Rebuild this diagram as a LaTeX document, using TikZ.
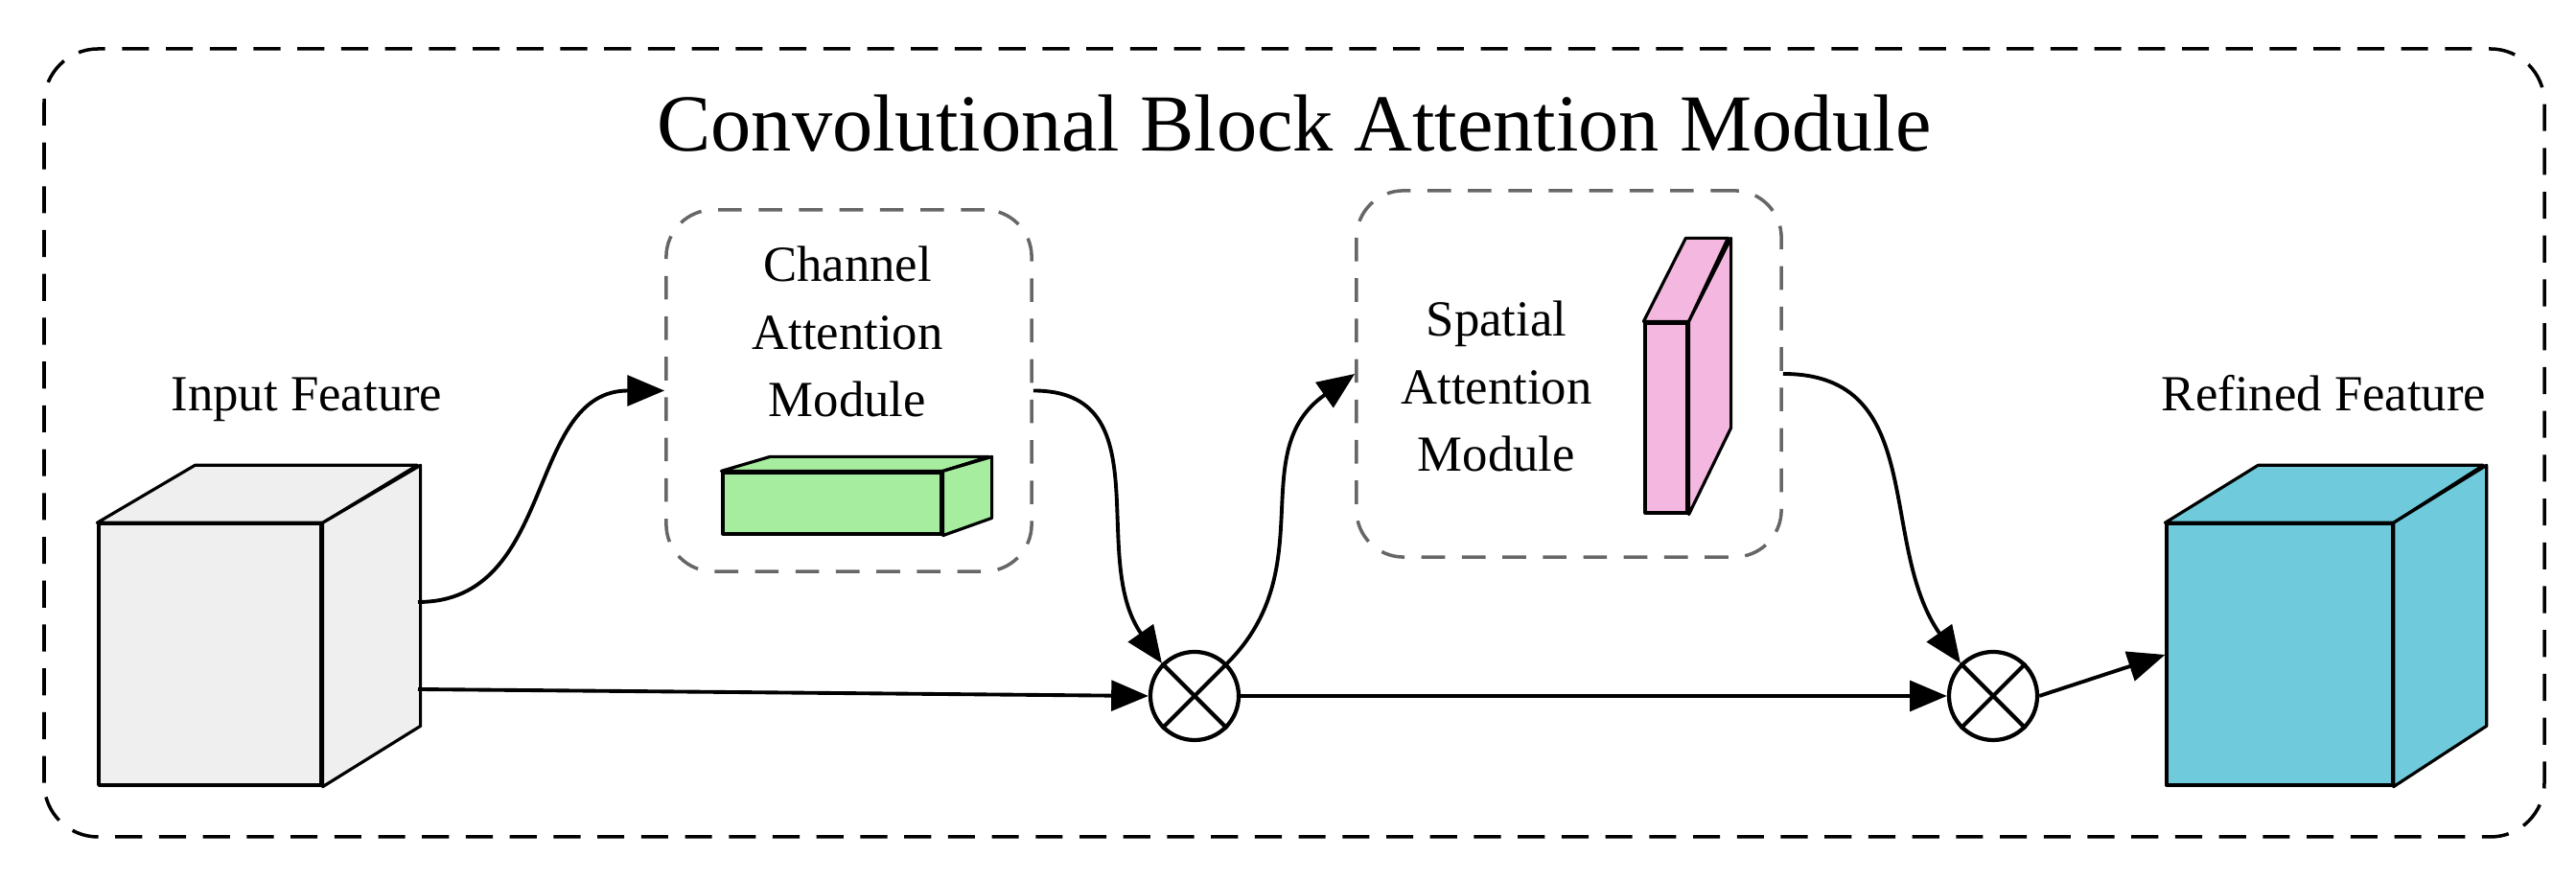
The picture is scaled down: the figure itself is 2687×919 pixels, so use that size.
\documentclass[tikz,border=0pt]{standalone}
\usepackage{fontspec}
\setmainfont{Liberation Serif}
\usetikzlibrary{arrows.meta}
\definecolor{cubegray}{HTML}{EFEFEF}
\definecolor{cgreen}{HTML}{A6EDA0}
\definecolor{cpink}{HTML}{F4B8E0}
\definecolor{ccyan}{HTML}{6FCBDB}
\begin{document}
\begin{tikzpicture}[x=0.01cm,y=0.01cm,
  arr/.style={line width=1.1pt,-{Triangle[length=11pt,width=9pt]}},
  face/.style={draw,line width=0.9pt,line join=round},
  mbox/.style={draw=black!60,line width=1pt,rounded corners=14pt,dash pattern=on 7pt off 5pt},
  lbl/.style={font=\fontsize{15}{20}\selectfont,align=center},
  ot/.style={circle,draw,line width=1.2pt,minimum size=0.92cm,inner sep=0pt}]
\useasboundingbox (0,0) rectangle (2687,919);
\draw[line width=1pt,rounded corners=16pt,dash pattern=on 8pt off 5pt] (46,46) rectangle (2654,868);
\node[font=\fontsize{24}{28}\selectfont] (title) at (1350,790) {Convolutional Block Attention Module};
% input cube
\node[face,fill=cubegray,minimum width=2.32cm,minimum height=2.72cm,inner sep=0pt] (in1) at (219,236) {};
\draw[face,fill=cubegray] (in1.north west) -- ++(102,60) -- ++(232,0) -- (in1.north east) -- cycle;
\draw[face,fill=cubegray] (in1.north east) -- ++(102,60) -- ++(0,-272) -- (in1.south east) -- cycle;
\coordinate (in1a) at (436,291);
\coordinate (in1b) at (436,200);
\node[lbl] (t1) at (320,502) {Input Feature};
% channel
\node[mbox,minimum width=3.81cm,minimum height=3.77cm] (cam) at (885.5,511.5) {};
\node[lbl] (t2) at (884,573) {Channel\\Attention\\Module};
\node[face,fill=cgreen,minimum width=2.28cm,minimum height=0.64cm,inner sep=0pt] (g) at (868,394) {};
\draw[face,fill=cgreen] (g.north west) -- ++(51,15) -- ++(228,0) -- (g.north east) -- cycle;
\draw[face,fill=cgreen] (g.north east) -- ++(51,15) -- ++(0,-64) -- (g.south east) -- cycle;
% spatial
\node[mbox,minimum width=4.43cm,minimum height=3.82cm] (sam) at (1636.5,529) {};
\node[lbl] (t3) at (1561,516) {Spatial\\Attention\\Module};
\node[face,fill=cpink,minimum width=0.44cm,minimum height=1.98cm,inner sep=0pt] (p) at (1738,483) {};
\draw[face,fill=cpink] (p.north west) -- ++(44,87) -- ++(44,0) -- (p.north east) -- cycle;
\draw[face,fill=cpink] (p.north east) -- ++(44,87) -- ++(0,-198) -- (p.south east) -- cycle;
% refined cube
\node[face,fill=ccyan,minimum width=2.35cm,minimum height=2.72cm,inner sep=0pt] (out) at (2377.5,236) {};
\draw[face,fill=ccyan] (out.north west) -- ++(97,60) -- ++(235,0) -- (out.north east) -- cycle;
\draw[face,fill=ccyan] (out.north east) -- ++(97,60) -- ++(0,-272) -- (out.south east) -- cycle;
\node[lbl] (t4) at (2424,509) {Refined Feature};
% otimes
\node[ot] (o1) at (1246,193) {};
\draw[line width=1.2pt] (o1.north west) -- (o1.south east) (o1.north east) -- (o1.south west);
\node[ot] (o2) at (2079,193) {};
\draw[line width=1.2pt] (o2.north west) -- (o2.south east) (o2.north east) -- (o2.south west);
% connectors
\draw[arr] (in1a) to[out=0,in=180,looseness=1.1] (cam.west);
\draw[arr] (in1b) -- (o1.west);
\draw[arr] (cam.east) to[out=0,in=125,looseness=1.1] (o1.north west);
\draw[arr] (o1.north east) to[out=45,in=215,looseness=1.1] (sam.west);
\draw[arr] (o1.east) -- (o2.west);
\draw[arr] (sam.east) to[out=0,in=125,looseness=1.1] (o2.north west);
\draw[arr] (o2.east) -- (out.west);
\end{tikzpicture}
\end{document}
